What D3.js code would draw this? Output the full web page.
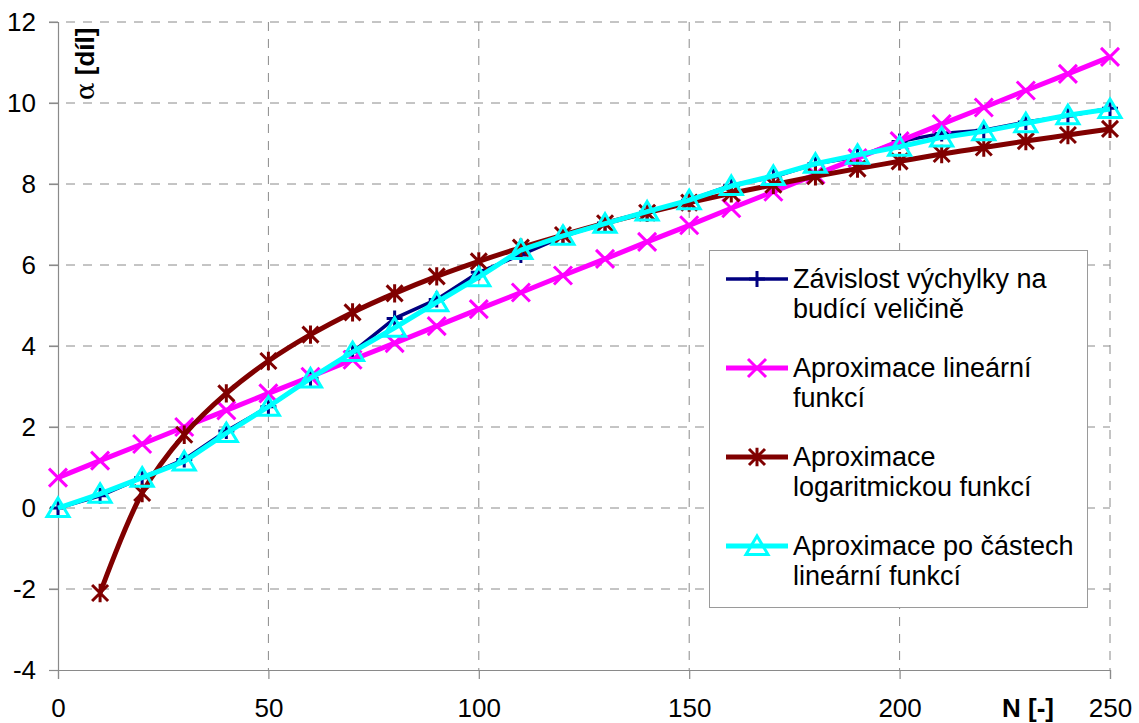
<!DOCTYPE html>
<html><head><meta charset="utf-8">
<script src="https://cdn.jsdelivr.net/npm/d3@7"></script>
<style>
body{margin:0;background:#fff}
svg{display:block}
text{font-family:"Liberation Sans",Arial,Helvetica,sans-serif;fill:#000}
</style>
</head><body>
<svg id="chart" width="1139" height="723"></svg>
<script>
// ---- data ----
const nValues = [0,10,20,30,40,50,60,70,80,90,100,110,120,130,140,150,160,170,180,190,200,210,220,230,240,250];
const measured = [0,0.3,0.75,1.2,1.9,2.5,3.2,3.85,4.68,5.15,5.82,6.25,6.7,7.04,7.31,7.6,7.97,8.17,8.5,8.67,9.05,9.25,9.33,9.53,9.68,9.87];
const linearFit = [0.75,1.17,1.58,2.0,2.41,2.83,3.24,3.66,4.07,4.49,4.91,5.32,5.74,6.15,6.57,6.98,7.4,7.81,8.23,8.64,9.06,9.48,9.89,10.31,10.72,11.14];
const logN = [10,20,30,40,50,60,70,80,90,100,110,120,130,140,150,160,170,180,190,200,210,220,230,240,250];
const logFit = [-2.1,0.37,1.81,2.83,3.63,4.28,4.83,5.3,5.72,6.09,6.43,6.74,7.03,7.29,7.54,7.77,7.98,8.19,8.38,8.56,8.74,8.9,9.06,9.21,9.36];
const piecewiseFit = [0,0.35,0.75,1.15,1.85,2.5,3.2,3.85,4.45,5.08,5.7,6.37,6.72,7.02,7.32,7.6,7.95,8.2,8.5,8.72,8.92,9.15,9.3,9.5,9.7,9.85];
const xTicks = [0,50,100,150,200,250];
const yTicks = [-4,-2,0,2,4,6,8,10,12];
const legendLabels = [
  ["Závislost výchylky na","budící veličině"],
  ["Aproximace lineární","funkcí"],
  ["Aproximace","logaritmickou funkcí"],
  ["Aproximace po částech","lineární funkcí"]
];

// ---- layout ----
const svg = d3.select("#chart");
const x = d3.scaleLinear().domain([0,250]).range([58,1110]);
const y = d3.scaleLinear().domain([-4,12]).range([670,22]);
const gridColor = "#8a8a8a";

// grid
const g = svg.append("g");
g.selectAll(".hg").data(yTicks.filter(d=>d>-4)).join("line")
  .attr("x1",49).attr("x2",x(250)).attr("y1",d=>y(d)).attr("y2",d=>y(d))
  .attr("stroke",gridColor).attr("stroke-width",1).attr("stroke-dasharray","9,8");
g.selectAll(".vg").data(xTicks.filter(d=>d>0)).join("line")
  .attr("x1",d=>x(d)).attr("x2",d=>x(d)).attr("y1",y(12)).attr("y2",y(-4))
  .attr("stroke",gridColor).attr("stroke-width",1).attr("stroke-dasharray","9,8");

// axes
const yAxis = d3.axisLeft(y).tickValues(yTicks).tickSize(9).tickPadding(13).tickFormat(d=>String(d));
const xAxis = d3.axisBottom(x).tickValues(xTicks).tickSize(9).tickPadding(20).tickFormat(d=>String(d));
const ya = svg.append("g").attr("transform",`translate(${x(0)},0)`).call(yAxis);
const xa = svg.append("g").attr("transform",`translate(0,${y(-4)})`).call(xAxis);
[ya,xa].forEach(a=>{
  a.select(".domain").attr("stroke",gridColor).attr("stroke-width",1.2);
  a.selectAll(".tick line").attr("stroke",gridColor).attr("stroke-width",1.2);
  a.selectAll(".tick text").attr("font-size",26).attr("font-family","Liberation Sans, Arial, sans-serif").attr("fill","#000");
});

// axis titles
svg.append("text").attr("transform","translate(94,100) rotate(-90)")
  .attr("font-size",26).attr("font-weight","bold")
  .html('<tspan font-weight="normal" font-family="DejaVu Serif, serif">α</tspan> [díl]');
svg.append("text").attr("x",1002).attr("y",717).attr("font-size",26).attr("font-weight","bold").text("N [-]");

// markers
const markPlus = (s)=>`M0,${-s}V${s}M${-s},0H${s}`;
const markX = (s)=>`M${-s},${-s}L${s},${s}M${-s},${s}L${s},${-s}`;
const markStar = (s)=>`M${-s},${-s}L${s},${s}M${-s},${s}L${s},${-s}M0,${-s*1.15}V${s*1.15}`;
const markTri = (s)=>`M0,${-s}L${s*1.1},${s*0.85}L${-s*1.1},${s*0.85}Z`;

const series = [
  {xs:nValues, ys:measured, color:"#000080", width:3.5, mark:markPlus(8), mw:3, curve:d3.curveLinear},
  {xs:nValues, ys:linearFit, color:"#ff00ff", width:5, mark:markX(9), mw:3, curve:d3.curveLinear},
  {xs:logN, ys:logFit, color:"#800000", width:5, mark:markStar(8), mw:3, curve:d3.curveCatmullRom},
  {xs:nValues, ys:piecewiseFit, color:"#00ffff", width:5, mark:markTri(10), mw:3, curve:d3.curveLinear}
];

const line = d3.line();
series.forEach(s=>{
  const pts = s.xs.map((n,i)=>[x(n),y(s.ys[i])]);
  svg.append("path").attr("d",line.curve(s.curve)(pts)).attr("fill","none")
    .attr("stroke",s.color).attr("stroke-width",s.width).attr("stroke-linejoin","round");
  svg.append("g").selectAll("path").data(pts).join("path")
    .attr("transform",d=>`translate(${d[0]},${d[1]})`).attr("d",s.mark)
    .attr("fill","none").attr("stroke",s.color).attr("stroke-width",s.mw);
});

// legend
const lg = svg.append("g");
lg.append("rect").attr("x",709.5).attr("y",250.5).attr("width",378).attr("height",357)
  .attr("fill","#fff").attr("stroke","#9a9a9a").attr("stroke-width",1);
series.forEach((s,i)=>{
  const cy = 279 + i*89;
  lg.append("line").attr("x1",726).attr("x2",788).attr("y1",cy).attr("y2",cy)
    .attr("stroke",s.color).attr("stroke-width",s.width);
  lg.append("path").attr("transform",`translate(757,${cy})`).attr("d",s.mark)
    .attr("fill","none").attr("stroke",s.color).attr("stroke-width",s.mw);
  legendLabels[i].forEach((t,j)=>{
    lg.append("text").attr("x",793).attr("y",cy+9+j*30).attr("font-size",27).text(t);
  });
});
</script>
</body></html>
